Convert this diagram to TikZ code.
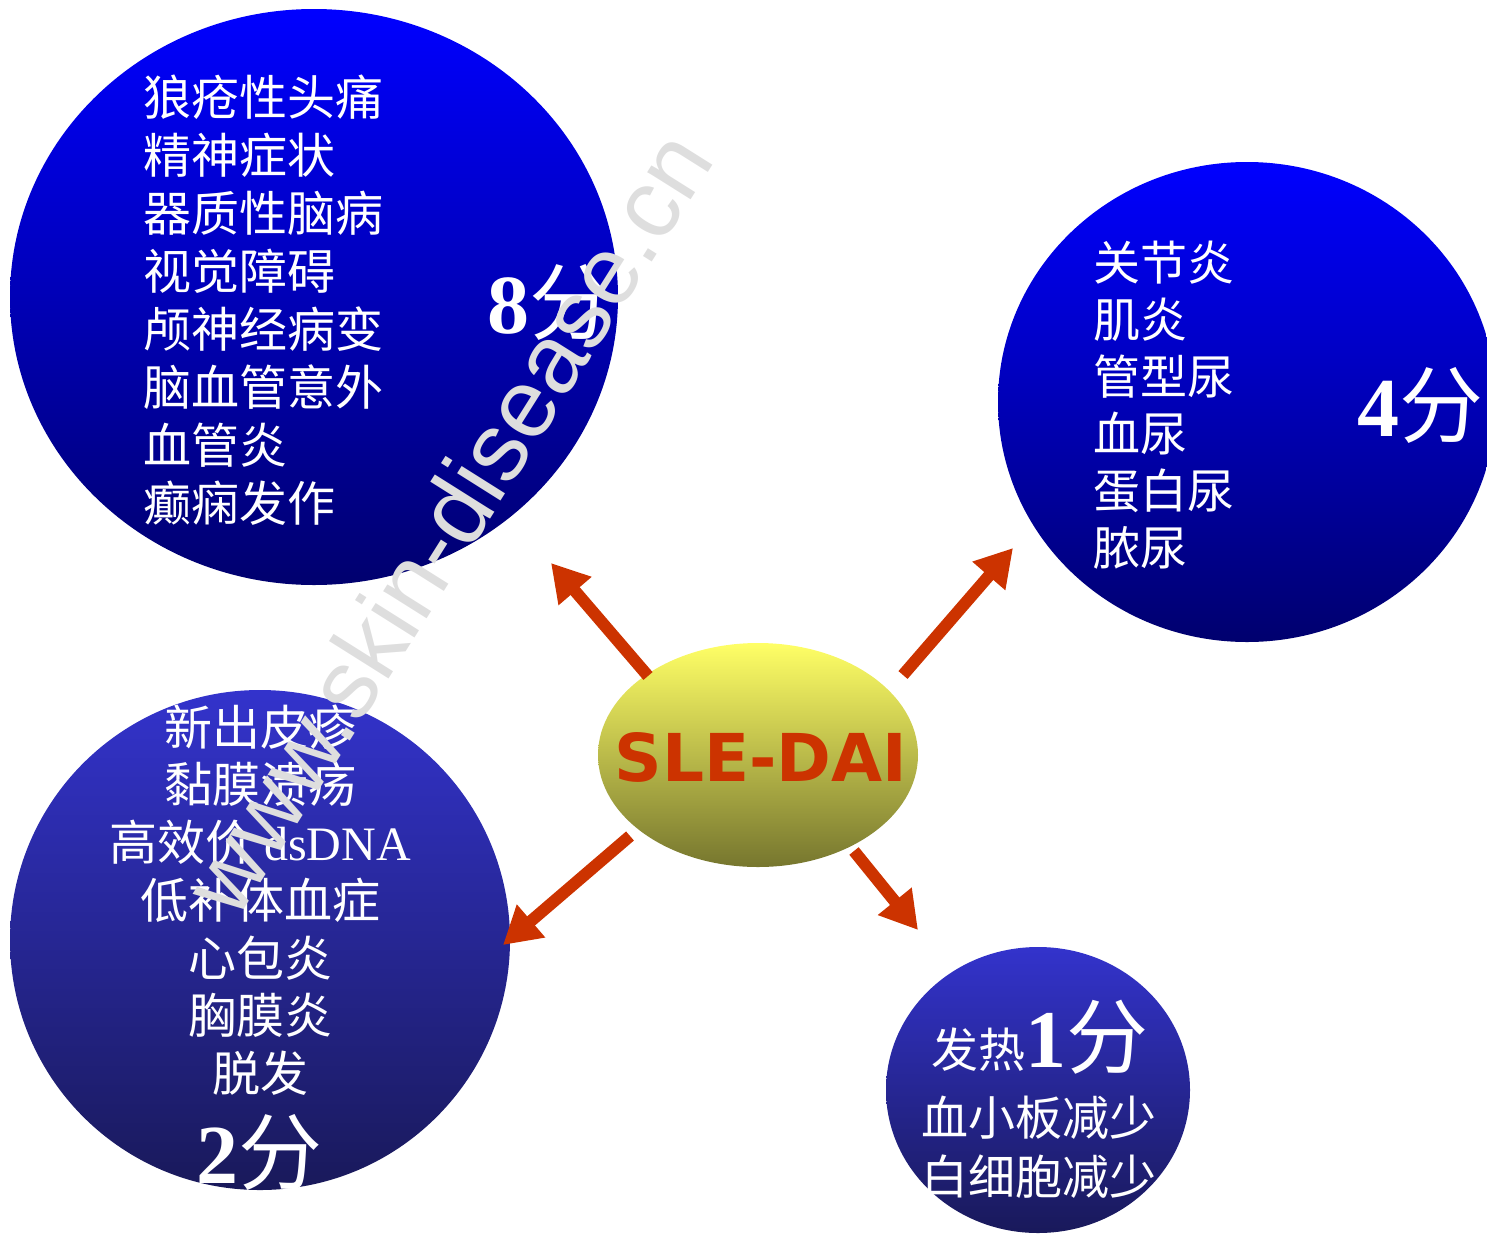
\documentclass[tikz,border=0pt]{standalone}
\usepackage{fontspec}
\setmainfont{Liberation Serif}
\newfontfamily\cjk{Noto Sans CJK SC}
\newfontfamily\wmfont{Liberation Sans}
\newfontfamily\slefont{DejaVu Sans}
\usetikzlibrary{shapes.geometric,arrows.meta}
\definecolor{arrowred}{RGB}{204,51,0}
\definecolor{blueTop}{RGB}{0,0,255}
\definecolor{blueBot}{RGB}{0,0,110}
\definecolor{violTop}{RGB}{51,51,204}
\definecolor{violBot}{RGB}{25,25,90}
\definecolor{yelTop}{RGB}{255,255,102}
\definecolor{yelBot}{RGB}{118,118,46}
\definecolor{wmgray}{RGB}{222,222,222}
\begin{document}
\begin{tikzpicture}[x=1pt,y=-1pt,
  blob/.style={ellipse, inner sep=0pt, outer sep=0pt, draw=none},
  conn/.style={draw=arrowred, line width=12pt, -{Triangle[length=37pt,width=41pt]}},
  txt/.style={text=white, inner sep=0pt, outer sep=0pt},
  cjktext/.style={txt, font=\cjk\fontsize{48pt}{58pt}\selectfont},
]
\useasboundingbox (0,0) rectangle (1487,1234);

% circles
\node[blob, minimum width=608pt, minimum height=576pt, top color=blueTop, bottom color=blueBot] (tl) at (314,297) {};
\node[blob, minimum width=498pt, minimum height=480pt, top color=blueTop, bottom color=blueBot] (tr) at (1247,402) {};
\node[blob, minimum width=500pt, minimum height=500pt, top color=violTop, bottom color=violBot] (bl) at (260,940) {};
\node[blob, minimum width=304pt, minimum height=286pt, top color=violTop, bottom color=violBot] (br) at (1038,1090) {};
\node[blob, minimum width=320pt, minimum height=224pt, top color=yelTop, bottom color=yelBot] (c) at (758,755) {};

% arrows
\coordinate (t1) at (648,676); \coordinate (h1) at (551,563);
\coordinate (t2) at (903,675); \coordinate (h2) at (1013,548);
\coordinate (t3) at (630,836); \coordinate (h3) at (503,945);
\coordinate (t4) at (854,851); \coordinate (h4) at (918,930);
\draw[conn] (t1) -- (h1);
\draw[conn] (t2) -- (h2);
\draw[conn] (t3) -- (h3);
\draw[conn] (t4) -- (h4);

% centre label
\node[inner sep=0pt, text=arrowred, font=\slefont\bfseries\fontsize{66pt}{66pt}\selectfont] (sle) at (761,757) {SLE-DAI};

% top-left
\node[cjktext, align=left, anchor=west] (tltext) at (143,300)
  {狼疮性头痛\\精神症状\\器质性脑病\\视觉障碍\\颅神经病变\\脑血管意外\\血管炎\\癫痫发作};
\node[txt, anchor=west] (tlscore) at (487,302)
  {{\fontsize{84pt}{84pt}\selectfont\bfseries 8}{\cjk\fontsize{84pt}{84pt}\selectfont 分}};

% top-right
\node[txt, font=\cjk\fontsize{47pt}{57pt}\selectfont, align=left, anchor=west] (trtext) at (1093,405)
  {关节炎\\肌炎\\管型尿\\血尿\\蛋白尿\\脓尿};
\node[txt, anchor=west] (trscore) at (1357,405)
  {{\fontsize{84pt}{84pt}\selectfont\bfseries 4}{\cjk\fontsize{84pt}{84pt}\selectfont 分}};

% bottom-left
\node[txt, font=\cjk\fontsize{48pt}{57.7pt}\selectfont, align=center] (bltext) at (260,900)
  {新出皮疹\\黏膜溃疡\\高效价 {\rmfamily dsDNA}\\低补体血症\\心包炎\\胸膜炎\\脱发};
\node[txt] (blscore) at (259,1152)
  {{\fontsize{84pt}{84pt}\selectfont\bfseries 2}{\cjk\fontsize{84pt}{84pt}\selectfont 分}};

% bottom-right
\node[txt, anchor=base] (br1) at (1040,1067)
  {{\cjk\fontsize{47pt}{47pt}\selectfont 发热}{\fontsize{82pt}{82pt}\selectfont\bfseries 1}{\cjk\fontsize{82pt}{82pt}\selectfont 分}};
\node[txt, font=\cjk\fontsize{47pt}{47pt}\selectfont] (br2) at (1039,1118) {血小板减少};
\node[txt, font=\cjk\fontsize{47pt}{47pt}\selectfont] (br3) at (1039,1177) {白细胞减少};

% watermark
\node[inner sep=0pt, text=wmgray, rotate=57.8, font=\wmfont\fontsize{97pt}{97pt}\selectfont] (wm) at (447,522) {www.skin-disease.cn};
\end{tikzpicture}
\end{document}
